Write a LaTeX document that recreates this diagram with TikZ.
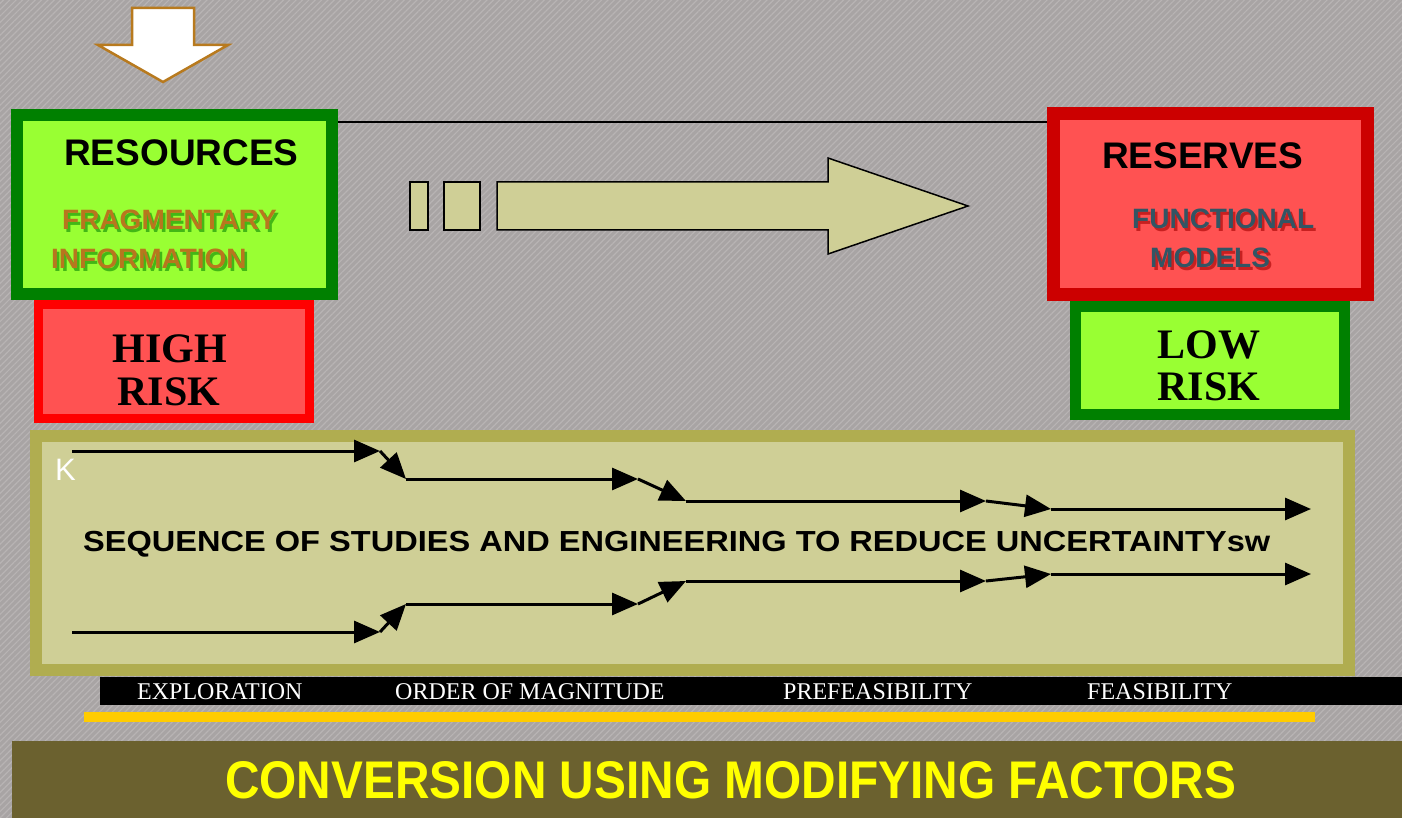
\documentclass[tikz,border=0pt]{standalone}
\usepackage{fontspec}
\usepackage{graphicx}
\setmainfont{Liberation Sans}
\newfontfamily\serifb{Liberation Serif}
\usetikzlibrary{arrows.meta,patterns.meta}
\newcommand{\fsz}[1]{\fontsize{#1}{#1}\selectfont}
\definecolor{bg}{RGB}{168,164,164}
\definecolor{bgstripe}{RGB}{184,180,180}
\definecolor{gdark}{RGB}{0,128,0}
\definecolor{glight}{RGB}{153,255,51}
\definecolor{rhigh}{RGB}{255,0,0}
\definecolor{rres}{RGB}{204,0,0}
\definecolor{rin}{RGB}{255,82,82}
\definecolor{kout}{RGB}{176,173,80}
\definecolor{kin}{RGB}{207,207,150}
\definecolor{browntxt}{RGB}{184,118,30}
\definecolor{slate}{RGB}{50,85,100}
\definecolor{bandcol}{RGB}{107,97,47}
\definecolor{yellowbar}{RGB}{255,204,0}
\definecolor{ytxt}{RGB}{255,255,0}
\begin{document}
\begin{tikzpicture}[x=1pt,y=-1pt,
  frame/.style={draw, rectangle, inner sep=0pt},
  lbl/.style={anchor=base west, inner sep=0pt},
  clbl/.style={anchor=base, inner sep=0pt},
  seq/.style={line width=3pt, -{Triangle[length=26pt,width=22pt]}},
  title/.style={lbl, font=\bfseries\fsz{37}},
  sub/.style={lbl, font=\bfseries\fsz{28}},
  risk/.style={clbl, font=\serifb\bfseries\fsz{42}},
  phase/.style={lbl, font=\serifb\fsz{24}, text=white}]
% background
\fill[bg] (0,0) rectangle (1402,818);
\fill[pattern={Lines[angle=45,distance=4.5pt,line width=1.2pt]}, pattern color=bgstripe] (0,0) rectangle (1402,818);
\useasboundingbox (0,0) rectangle (1402,818);

% down arrow
\draw[draw={rgb,255:red,184;green,122;blue,30}, fill=white, line width=2.5pt, line join=miter]
  (132,8) -- (194,8) -- (194,45) -- (228,45) -- (163,82) -- (98,45) -- (132,45) -- cycle;

% boxes
\node[frame, draw=gdark, fill=glight, line width=12pt, minimum width=315pt, minimum height=179pt] (res) at (174.5,204.5) {};
\node[frame, draw=rhigh, fill=rin, line width=9pt, minimum width=271pt, minimum height=114pt] (high) at (174,361.5) {};
\node[frame, draw=rres, fill=rin, line width=13pt, minimum width=314pt, minimum height=181pt] (rsv) at (1210.5,204) {};
\node[frame, draw=gdark, fill=glight, line width=11pt, minimum width=269pt, minimum height=108pt] (low) at (1210,360.5) {};

% connector line
\draw[line width=1.2pt] ([yshift=-13pt]res.north east) -- ([yshift=-15pt]rsv.north west);

% texts in boxes
\node[title] (restxt) at (64,166) {RESOURCES};
\node[sub, text=gdark!70!glight, opacity=0.8] at (64.5,232.5) {FRAGMENTARY};
\node[sub, text=browntxt] (frag) at (62,230) {FRAGMENTARY};
\node[sub, text=gdark!70!glight, opacity=0.8] at (53.5,271.5) {INFORMATION};
\node[sub, text=browntxt] (info) at (51,269) {INFORMATION};

\node[title] (rsvtxt) at (1102,169) {RESERVES};
\node[sub, text=rres!80!black, opacity=0.6] at (1134.5,231.5) {FUNCTIONAL};
\node[sub, text=slate] (func) at (1132,229) {FUNCTIONAL};
\node[sub, text=rres!80!black, opacity=0.6] at (1152.5,270.5) {MODELS};
\node[sub, text=slate] (mod) at (1150,268) {MODELS};

\node[risk] (h1) at (170,362) {HIGH};
\node[risk] (h2) at (169,405) {RISK};
\node[risk] (l1) at (1209,358) {LOW};
\node[risk] (l2) at (1209,400) {RISK};

% big right arrow
\draw[fill=kin, line width=1.5pt] (410,182) rectangle (428,230);
\draw[fill=kin, line width=1.5pt] (444,182) rectangle (480,230);
\draw[fill=kin, line width=1.5pt, line join=miter]
  (497,182) -- (828,182) -- (828,158) -- (968,206) -- (828,254) -- (828,230) -- (497,230) -- cycle;

% studies box
\node[frame, draw=kout, fill=kin, line width=12pt, minimum width=1313pt, minimum height=234pt] (study) at (692.5,553) {};
\node[lbl, font=\fsz{31}, text=white] (k) at (55,480) {K};
\node[lbl, font=\bfseries\fsz{29}] (seqtxt) at (83,551)
  {\resizebox{1187pt}{\height}{SEQUENCE OF STUDIES AND ENGINEERING TO REDUCE UNCERTAINTYsw}};

% sequence arrows
\coordinate (p0) at (72,451);  \coordinate (p1) at (380,451);
\coordinate (p2) at (406,479); \coordinate (p3) at (638,479);
\coordinate (p4) at (686,501); \coordinate (p5) at (986,501);
\coordinate (p6) at (1051,509);\coordinate (p7) at (1311,509);
\coordinate (q0) at (72,632);  \coordinate (q1) at (380,632);
\coordinate (q2) at (406,604); \coordinate (q3) at (638,604);
\coordinate (q4) at (686,581); \coordinate (q5) at (986,581);
\coordinate (q6) at (1051,574);\coordinate (q7) at (1311,574);
\foreach \a/\b in {p0/p1,p1/p2,p2/p3,p3/p4,p4/p5,p5/p6,p6/p7,q0/q1,q1/q2,q2/q3,q3/q4,q4/q5,q5/q6,q6/q7}
  \draw[seq] (\a) -- (\b);

% phase band
\fill[black] (100,677) rectangle (1402,705);
\node[phase] (ph1) at (137,699) {EXPLORATION};
\node[phase] (ph2) at (395,699) {ORDER OF MAGNITUDE};
\node[phase] (ph3) at (783,699) {PREFEASIBILITY};
\node[phase] (ph4) at (1087,699) {FEASIBILITY};

% yellow bar
\fill[fill=yellowbar] (84,712) rectangle (1315,722);

% bottom band
\fill[fill=bandcol] (12,741) rectangle (1402,818);
\node[lbl, font=\bfseries\fsz{53}, text=ytxt] (conv) at (225,798)
  {\resizebox{1011pt}{\height}{CONVERSION USING MODIFYING FACTORS}};
\end{tikzpicture}
\end{document}
